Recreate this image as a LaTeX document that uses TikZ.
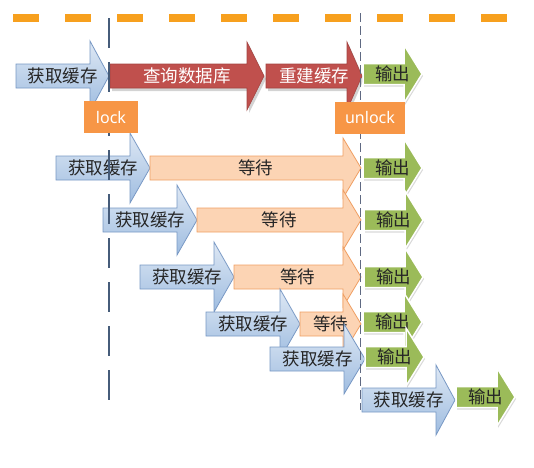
\documentclass[tikz,border=0pt]{standalone}
\usepackage{fontspec}
\setmainfont{Noto Sans}
\newfontfamily\cjk{Noto Sans CJK SC}
\usetikzlibrary{shadows}

\definecolor{dashorange}{RGB}{247,160,30}
\definecolor{lockorange}{RGB}{247,150,70}
\definecolor{fetchtop}{RGB}{222,232,244}
\definecolor{fetchbot}{RGB}{158,188,224}
\definecolor{fetchline}{RGB}{120,152,196}
\definecolor{waitfill}{RGB}{252,212,180}
\definecolor{waitline}{RGB}{240,160,100}
\definecolor{queryred}{RGB}{192,80,77}
\definecolor{outgreen}{RGB}{155,187,89}
\definecolor{lockline}{RGB}{70,92,122}
\definecolor{unlockline}{RGB}{95,105,130}

\newcommand{\arrowfont}{\cjk\fontsize{17.5}{17.5}\selectfont}

% #1 style, #2 name, #3 tail x, #4 neck x, #5 tip x, #6 mid y, #7 head half height, #8 text
\newcommand{\blockarrow}[8]{%
  \draw[#1] (#3,#6-\bh) -- (#4,#6-\bh) -- (#4,#6-#7) -- (#5,#6)
    -- (#4,#6+#7) -- (#4,#6+\bh) -- (#3,#6+\bh) -- cycle;
  \node[#1 text] (#2) at ({(#3+#5)/2},#6) {#8};}

\tikzset{
  body/.store in=\bh, body=12,
  fetch/.style={draw=fetchline, line width=0.8pt, top color=fetchtop, bottom color=fetchbot},
  fetch text/.style={inner sep=0pt, font=\arrowfont, text=black!85},
  query/.style={draw=queryred!85!black, line width=0.6pt, fill=queryred,
    drop shadow={opacity=0.35, shadow xshift=2pt, shadow yshift=-3pt}},
  query text/.style={inner sep=0pt, font=\arrowfont, text=white},
  wait/.style={draw=waitline, line width=0.8pt, fill=waitfill},
  wait text/.style={inner sep=0pt, font=\arrowfont, text=black!85},
  output/.style={body=10.5, draw=white, line width=1.5pt, fill=outgreen,
    drop shadow={opacity=0.3, shadow xshift=1pt, shadow yshift=-2pt}},
  output text/.style={inner sep=0pt, font=\arrowfont, text=black!85},
  lockbox/.style={fill=lockorange, inner sep=0pt, minimum height=32pt,
    text=white, font=\fontsize{16}{16}\selectfont},
}

\begin{document}
\begin{tikzpicture}[x=1pt, y=-1pt]
  \useasboundingbox (0,0) rectangle (534,467);
  % time line
  \draw[dashorange, line width=8pt, dash pattern=on 26pt off 26pt] (13,18) -- (510,18);
  % first request
  \blockarrow{fetch}{fetch1}{16}{90}{109}{76}{35}{获取缓存}
  \blockarrow{query}{query}{110}{247}{264}{76}{34}{查询数据库}
  \blockarrow{query}{rebuild}{266}{347}{362}{76}{34}{重建缓存}
  \blockarrow{output}{out1}{363}{404}{422}{74}{29}{输出}
  % waiting requests
  \blockarrow{fetch}{fetch2}{56}{130}{150}{168}{35}{获取缓存}
  \blockarrow{wait}{wait2}{150}{343}{361}{168}{30}{等待}
  \blockarrow{output}{out2}{363}{404}{422}{168}{29}{输出}
  \blockarrow{fetch}{fetch3}{103}{177}{197}{220}{35}{获取缓存}
  \blockarrow{wait}{wait3}{197}{343}{361}{220}{30}{等待}
  \blockarrow{output}{out3}{364}{405}{423}{220}{29}{输出}
  \blockarrow{fetch}{fetch4}{140}{214}{234}{277}{35}{获取缓存}
  \blockarrow{wait}{wait4}{234}{343}{361}{277}{30}{等待}
  \blockarrow{output}{out4}{364}{405}{423}{277}{29}{输出}
  \blockarrow{fetch}{fetch5}{206}{280}{300}{324}{35}{获取缓存}
  \blockarrow{wait}{wait5}{300}{343}{361}{324}{30}{等待}
  \blockarrow{output}{out5}{363}{404}{422}{322}{29}{输出}
  \blockarrow{fetch}{fetch6}{270}{344}{365}{359}{35}{获取缓存}
  \blockarrow{output}{out6}{365}{406}{424}{357}{29}{输出}
  % after unlock
  \blockarrow{fetch}{fetch7}{362}{436}{455}{400}{35}{获取缓存}
  \blockarrow{output}{out7}{456}{497}{515}{397}{29}{输出}
  % lock / unlock
  \draw[lockline, line width=2pt, dash pattern=on 30pt off 14pt] (109,18) -- (109,402);
  \draw[unlockline, line width=0.8pt, dash pattern=on 9pt off 4pt] (360,13) -- (360,410);
  \node[lockbox, minimum width=54pt] (lock) at (111,117) {lock};
  \node[lockbox, minimum width=70pt] (unlock) at (370,117.5) {unlock};
\end{tikzpicture}
\end{document}
